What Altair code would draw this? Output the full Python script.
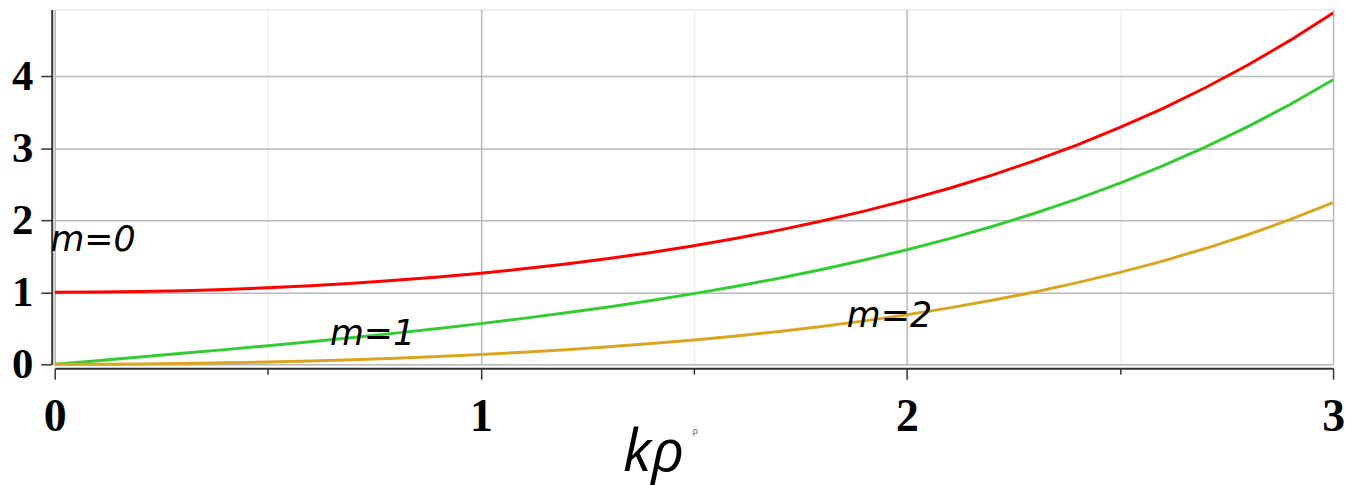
import altair as alt
import pandas as pd

# kρ sample points
x_vals = [0.0, 0.1, 0.2, 0.3, 0.4, 0.5, 0.6, 0.7, 0.8, 0.9, 1.0, 1.1, 1.2, 1.3, 1.4, 1.5,
          1.6, 1.7, 1.8, 1.9, 2.0, 2.1, 2.2, 2.3, 2.4, 2.5, 2.6, 2.7, 2.8, 2.9, 3.0]
m0_vals = [1.000, 1.003, 1.010, 1.023, 1.040, 1.064, 1.092, 1.126, 1.167, 1.213, 1.266,
           1.326, 1.394, 1.469, 1.553, 1.647, 1.750, 1.864, 1.990, 2.128, 2.280, 2.446,
           2.629, 2.830, 3.049, 3.290, 3.553, 3.842, 4.157, 4.503, 4.881]
m1_vals = [0.000, 0.050, 0.101, 0.152, 0.204, 0.258, 0.314, 0.372, 0.433, 0.497, 0.565,
           0.638, 0.715, 0.797, 0.886, 0.982, 1.085, 1.196, 1.317, 1.448, 1.591, 1.746,
           1.914, 2.098, 2.298, 2.517, 2.755, 3.016, 3.301, 3.613, 3.953]
m2_vals = [0.000, 0.001, 0.005, 0.011, 0.020, 0.032, 0.046, 0.064, 0.084, 0.108, 0.136,
           0.167, 0.203, 0.243, 0.288, 0.338, 0.394, 0.457, 0.526, 0.603, 0.689, 0.784,
           0.889, 1.005, 1.134, 1.277, 1.434, 1.608, 1.800, 2.012, 2.245]
series_names = ["m=0", "m=1", "m=2"]
series_colors = ["#FF0000", "#33CC33", "#DAA520"]

label_text = ["m=0", "m=1", "m=2"]
label_x = [-0.01, 0.646, 1.859]
label_y = [1.57, 0.27, 0.52]

# tiny superscript artefact next to the axis title
sup_text = ["ρ"]
sup_x = [1.497]
sup_y = [-0.97]

x_ticks = [0, 0.5, 1, 1.5, 2, 2.5, 3]
y_ticks = [0, 0.5, 1, 1.5, 2, 2.5, 3, 3.5, 4, 4.5]

rows = []
for name, vals in zip(series_names, [m0_vals, m1_vals, m2_vals]):
    for xv, yv in zip(x_vals, vals):
        rows.append({"x": xv, "y": yv, "m": name})
df = pd.DataFrame(rows)
labels_df = pd.DataFrame({"x": label_x, "y": label_y, "t": label_text})
sup_df = pd.DataFrame({"x": sup_x, "y": sup_y, "t": sup_text})

xscale = alt.Scale(domain=[0, 3], nice=False, zero=False)
yscale = alt.Scale(domain=[0, 4.93], nice=False, zero=False)

major_test = "abs(datum.value - round(datum.value)) < 0.001"
label_expr = "abs(datum.value - round(datum.value)) < 0.001 ? format(datum.value, 'd') : ''"

x_axis = alt.Axis(
    values=x_ticks,
    labelExpr=label_expr,
    labelFont="Liberation Serif", labelFontWeight="bold", labelFontSize=46, labelColor="black",
    labelPadding=16, labelFlush=False, labelOverlap=False,
    tickSize={"condition": {"test": major_test, "value": 11}, "value": 6},
    tickColor="#333333", tickWidth=1.5,
    domainColor="#333333", domainWidth=2,
    gridColor={"condition": {"test": major_test, "value": "#B8B8B8"}, "value": "#E8E8E8"},
    gridWidth={"condition": {"test": major_test, "value": 1.5}, "value": 1},
    offset=4,
    title="kρ", titleFont="Open Sans", titleFontStyle="italic", titleFontWeight="normal",
    titleFontSize=58, titleColor="black",
    titleX=602, titleY=103, titleBaseline="alphabetic", titleAlign="center",
)
y_axis = alt.Axis(
    values=y_ticks,
    labelExpr=label_expr,
    labelFont="Liberation Serif", labelFontWeight="bold", labelFontSize=43, labelColor="black",
    labelPadding=8, labelFlush=False, labelOverlap=False,
    tickSize={"condition": {"test": major_test, "value": 11}, "value": 6},
    tickColor="#333333", tickWidth=1.5,
    domainColor="#333333", domainWidth=2,
    gridColor={"condition": {"test": major_test, "value": "#B8B8B8"}, "value": "#E8E8E8"},
    gridWidth={"condition": {"test": major_test, "value": 1.5}, "value": 1},
    offset=3,
    title=None,
)

lines = alt.Chart(df).mark_line(strokeWidth=3).encode(
    x=alt.X("x:Q", scale=xscale, axis=x_axis),
    y=alt.Y("y:Q", scale=yscale, axis=y_axis),
    color=alt.Color("m:N", scale=alt.Scale(domain=series_names, range=series_colors), legend=None),
    detail="m:N",
)

texts = alt.Chart(labels_df).mark_text(
    font="DejaVu Sans", fontStyle="italic", fontSize=35, align="left", baseline="alphabetic",
    color="black",
).encode(
    x=alt.X("x:Q", scale=xscale),
    y=alt.Y("y:Q", scale=yscale),
    text="t:N",
)

sup = alt.Chart(sup_df).mark_text(
    font="Open Sans", fontSize=9, align="left", baseline="alphabetic", color="#3A5BA0",
).encode(
    x=alt.X("x:Q", scale=xscale),
    y=alt.Y("y:Q", scale=yscale),
    text="t:N",
)

chart = alt.layer(lines, texts, sup).properties(
    width=1286, height=357,
    autosize=alt.AutoSizeParams(type="none"),
    padding={"left": 47, "top": 0, "right": 12, "bottom": 120},
).configure_view(stroke="#888888", strokeWidth=1.5).configure(background="white")

chart.save("out.html", embed_options={"renderer": "svg", "actions": False})
